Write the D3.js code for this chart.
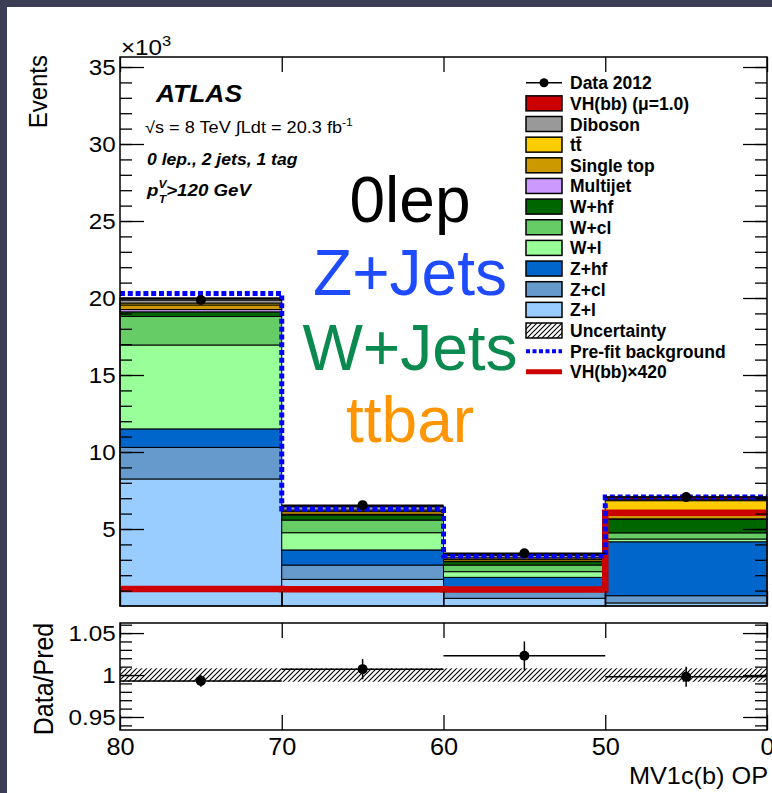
<!DOCTYPE html>
<html>
<head>
<meta charset="utf-8">
<script src="https://cdn.jsdelivr.net/npm/d3@7"></script>
<style>
  body { margin: 0; background: #3b3e54; }
  svg { display: block; }
  text { font-family: "Liberation Sans", Arial, Helvetica, sans-serif; }
</style>
</head>
<body>
<script>
var width = 772;
var height = 793;

// MV1c(b) operating point bin edges
var binEdges = ["80", "70", "60", "50", "0"];

// stacked backgrounds (x10^3 events), bottom -> top
var zl = [8.25, 1.73, 0.5, 0.2];
var zcl = [2.05, 0.93, 0.5, 0.47];
var zhf = [1.2, 0.98, 0.86, 3.5];
var wl = [5.45, 1.12, 0.37, 0.18];
var wcl = [1.85, 0.82, 0.43, 0.4];
var whf = [0.3, 0.32, 0.22, 0.88];
var multijet = [0.15, 0.06, 0.03, 0.03];
var singleTop = [0.3, 0.17, 0.12, 0.3];
var ttbar = [0.12, 0.1, 0.1, 0.88];
var diboson = [0.3, 0.22, 0.17, 0.1];
var vhbb = [0.04, 0.05, 0.04, 0.14];

var data2012 = [19.87, 6.55, 3.42, 7.07];
var dataErr = [0.14, 0.08, 0.06, 0.085];
var prefit = [20.3, 6.3, 3.25, 7.07];
var vhx420 = [1.1, 1.08, 1.07, 6.05];

// ratio panel
var ratio = [0.993, 1.007, 1.023, 0.998];
var ratioErr = [0.007, 0.012, 0.017, 0.012];
var systBand = 0.008;

var yMajor = [5, 10, 15, 20, 25, 30, 35];
var ratioMajor = [0.95, 1, 1.05];

var stackKeys = ["Z+l", "Z+cl", "Z+hf", "W+l", "W+cl", "W+hf", "Multijet", "Single top", "tt", "Diboson", "VH"];
var stackVals = [zl, zcl, zhf, wl, wcl, whf, multijet, singleTop, ttbar, diboson, vhbb];
var stackColors = ["#99ccff", "#6699cc", "#0066cc", "#99ff99", "#66cc66", "#006600", "#cc99ff", "#cc9900", "#ffcc00", "#999999", "#cc0000"];

var legendNames = ["Data 2012", "VH(bb) (\u03bc=1.0)", "Diboson", "tt\u0304", "Single top", "Multijet", "W+hf", "W+cl", "W+l", "Z+hf", "Z+cl", "Z+l", "Uncertainty", "Pre-fit background", "VH(bb)\u00d7420"];

var overlayText = ["0lep", "Z+Jets", "W+Jets", "ttbar"];
var overlayColor = ["#000000", "#1f4bff", "#0a8a4e", "#ff9500"];

var plot = { left: 120, right: 767, top: 57, bottom: 606 };
var rpad = { top: 623, bottom: 730 };
var sx = 1.1; // the figure is a bit wider than tall

var svg = d3
  .select("body")
  .append("svg")
  .attr("width", width)
  .attr("height", height);

svg.append("rect").attr("x", 7).attr("y", 7).attr("width", width - 7).attr("height", height - 7).attr("fill", "#fff");

var defs = svg.append("defs");
var hatch = defs
  .append("pattern")
  .attr("id", "hatch")
  .attr("patternUnits", "userSpaceOnUse")
  .attr("width", 5)
  .attr("height", 5);
hatch.append("path").attr("d", "M0,5 L5,0 M-1,1 L1,-1 M4,6 L6,4").attr("stroke", "#000").attr("stroke-width", 1.1);

var x = d3.scaleLinear().domain([0, binEdges.length - 1]).range([plot.left, plot.right]);
var y = d3.scaleLinear().domain([0, 35.65]).range([plot.bottom, plot.top]);
var yr = d3.scaleLinear().domain([0.9345, 1.062]).range([rpad.bottom, rpad.top]);

var bins = d3.range(binEdges.length - 1);
var table = bins.map(function (i) {
  var row = { bin: i };
  stackKeys.forEach(function (k, j) {
    row[k] = stackVals[j][i];
  });
  return row;
});
var layers = d3.stack().keys(stackKeys)(table);

// stacked histogram
var gStack = svg.append("g");
layers.forEach(function (layer, j) {
  gStack
    .selectAll(null)
    .data(layer)
    .join("rect")
    .attr("x", (d) => x(d.data.bin))
    .attr("width", (d) => x(d.data.bin + 1) - x(d.data.bin))
    .attr("y", (d) => y(d[1]))
    .attr("height", (d) => y(d[0]) - y(d[1]))
    .attr("fill", stackColors[j])
    .attr("stroke", "#000")
    .attr("stroke-width", 1);
});

// uncertainty on the total
var top = layers[layers.length - 1];
svg
  .append("g")
  .selectAll("rect")
  .data(top)
  .join("rect")
  .attr("x", (d) => x(d.data.bin))
  .attr("width", (d) => x(d.data.bin + 1) - x(d.data.bin))
  .attr("y", (d) => y(d[1] * (1 + systBand)))
  .attr("height", (d) => y(d[1] * (1 - systBand)) - y(d[1] * (1 + systBand)))
  .attr("fill", "url(#hatch)");

// step lines
function steps(vals) {
  var pts = vals.map((v, i) => [i, v]);
  pts.push([vals.length, vals[vals.length - 1]]);
  return pts;
}
var stepLine = d3
  .line()
  .x((d) => x(d[0]))
  .y((d) => y(d[1]))
  .curve(d3.curveStepAfter);

svg
  .append("path")
  .datum(steps(vhx420))
  .attr("fill", "none")
  .attr("stroke", "#cc0000")
  .attr("stroke-width", 6.5)
  .attr("d", stepLine);

svg
  .append("path")
  .datum(steps(prefit))
  .attr("fill", "none")
  .attr("stroke", "#0000ff")
  .attr("stroke-width", 5)
  .attr("stroke-dasharray", "5,2.8")
  .attr("d", stepLine);

// data points
var gData = svg.append("g");
bins.forEach(function (i) {
  gData.append("line")
    .attr("x1", x(i)).attr("x2", x(i + 1))
    .attr("y1", y(data2012[i])).attr("y2", y(data2012[i]))
    .attr("stroke", "#000").attr("stroke-width", 1.5);
  gData.append("line")
    .attr("x1", x(i + 0.5)).attr("x2", x(i + 0.5))
    .attr("y1", y(data2012[i] - dataErr[i])).attr("y2", y(data2012[i] + dataErr[i]))
    .attr("stroke", "#000").attr("stroke-width", 1.5);
  gData.append("circle")
    .attr("cx", x(i + 0.5)).attr("cy", y(data2012[i]))
    .attr("r", 5).attr("fill", "#000");
});

// ratio panel
svg
  .append("rect")
  .attr("x", plot.left)
  .attr("width", plot.right - plot.left)
  .attr("y", yr(1 + systBand))
  .attr("height", yr(1 - systBand) - yr(1 + systBand))
  .attr("fill", "url(#hatch)");

var gRatio = svg.append("g");
bins.forEach(function (i) {
  gRatio.append("line")
    .attr("x1", x(i)).attr("x2", x(i + 1))
    .attr("y1", yr(ratio[i])).attr("y2", yr(ratio[i]))
    .attr("stroke", "#000").attr("stroke-width", 1.5);
  gRatio.append("line")
    .attr("x1", x(i + 0.5)).attr("x2", x(i + 0.5))
    .attr("y1", yr(ratio[i] - ratioErr[i])).attr("y2", yr(ratio[i] + ratioErr[i]))
    .attr("stroke", "#000").attr("stroke-width", 1.5);
  gRatio.append("circle")
    .attr("cx", x(i + 0.5)).attr("cy", yr(ratio[i]))
    .attr("r", 5).attr("fill", "#000");
});

// axes
function styleAxis(g) {
  g.select(".domain").remove();
  g.selectAll(".tick line").attr("stroke", "#000").attr("stroke-width", 1.3);
  g.selectAll(".tick text").attr("font-size", 22).attr("fill", "#000").attr("font-family", "Liberation Sans, Arial, sans-serif");
}
function addAxis(axis, tx, ty) {
  var g = svg.append("g").attr("transform", "translate(" + tx + "," + ty + ")").call(axis);
  styleAxis(g);
  return g;
}

// main y
var gy = addAxis(d3.axisLeft(y).tickValues(yMajor).tickSize(-24).tickPadding(4).tickFormat(d3.format("d")), plot.left, 0);
gy.selectAll(".tick text").attr("transform", "scale(" + sx + ",1)");
addAxis(d3.axisLeft(y).tickValues(d3.range(1, 36)).tickSize(-12).tickFormat(""), plot.left, 0);
addAxis(d3.axisRight(y).tickValues(yMajor).tickSize(-24).tickFormat(""), plot.right, 0);
addAxis(d3.axisRight(y).tickValues(d3.range(1, 36)).tickSize(-12).tickFormat(""), plot.right, 0);
addAxis(d3.axisBottom(x).ticks(4).tickSize(-15).tickFormat(""), 0, plot.bottom);
addAxis(d3.axisTop(x).ticks(4).tickSize(-15).tickFormat(""), 0, plot.top);

// ratio y
var gyr = addAxis(
  d3.axisLeft(yr).tickValues(ratioMajor).tickSize(-24).tickPadding(4).tickFormat((d) => (d === 1 ? "1" : d3.format(".2f")(d))),
  plot.left, 0
);
gyr.selectAll(".tick text").attr("transform", "scale(" + sx + ",1)");
var ratioMinor = d3.range(94, 107).map((d) => d / 100);
addAxis(d3.axisLeft(yr).tickValues(ratioMinor).tickSize(-12).tickFormat(""), plot.left, 0);
addAxis(d3.axisRight(yr).tickValues(ratioMajor).tickSize(-24).tickFormat(""), plot.right, 0);
addAxis(d3.axisRight(yr).tickValues(ratioMinor).tickSize(-12).tickFormat(""), plot.right, 0);
var gx = addAxis(
  d3.axisBottom(x).ticks(4).tickSize(-15).tickPadding(9).tickFormat((d) => binEdges[d]),
  0, rpad.bottom
);
gx.selectAll(".tick text").attr("transform", "scale(" + sx + ",1)").attr("font-size", 23);
addAxis(d3.axisTop(x).ticks(4).tickSize(-15).tickFormat(""), 0, rpad.top);

// frames
[[plot.top, plot.bottom], [rpad.top, rpad.bottom]].forEach(function (p) {
  svg.append("rect")
    .attr("x", plot.left).attr("y", p[0])
    .attr("width", plot.right - plot.left).attr("height", p[1] - p[0])
    .attr("fill", "none").attr("stroke", "#000").attr("stroke-width", 1.5);
});

// axis titles
svg.append("text")
  .attr("transform", "translate(47,55) scale(" + sx + ",1) rotate(-90)")
  .attr("text-anchor", "end").attr("font-size", 24)
  .text("Events");
svg.append("text")
  .attr("transform", "translate(53,679) scale(" + sx + ",1) rotate(-90)")
  .attr("text-anchor", "middle").attr("font-size", 25)
  .text("Data/Pred");
svg.append("text")
  .attr("transform", "translate(768,784) scale(" + sx + ",1)")
  .attr("text-anchor", "end").attr("font-size", 23)
  .text("MV1c(b) OP");

var mult = svg.append("text")
  .attr("transform", "translate(121,55) scale(" + sx + ",1)")
  .attr("font-size", 22);
mult.append("tspan").text("\u00d710");
mult.append("tspan").attr("dy", -9).attr("font-size", 15).text("3");

// ATLAS labels
svg.append("text")
  .attr("transform", "translate(156,102) scale(" + sx + ",1)")
  .attr("font-size", 24).attr("font-weight", "bold").attr("font-style", "italic")
  .text("ATLAS");
var lumi = svg.append("text")
  .attr("transform", "translate(145,133) scale(" + sx + ",1)")
  .attr("font-size", 16.5);
lumi.append("tspan").text("\u221as = 8 TeV \u222bLdt = 20.3 fb");
lumi.append("tspan").attr("dy", -7).attr("font-size", 11).text("-1");
svg.append("text")
  .attr("transform", "translate(147,165) scale(" + sx + ",1)")
  .attr("font-size", 16).attr("font-weight", "bold").attr("font-style", "italic")
  .text("0 lep., 2 jets, 1 tag");
var ptv = svg.append("text")
  .attr("transform", "translate(147,196) scale(" + sx + ",1)")
  .attr("font-size", 17).attr("font-weight", "bold").attr("font-style", "italic");
ptv.append("tspan").text("p");
ptv.append("tspan").attr("dy", -8).attr("font-size", 11).text("V");
ptv.append("tspan").attr("dx", -7).attr("dy", 15).attr("font-size", 11).text("T");
ptv.append("tspan").attr("dy", -7).text(">120 GeV");

// legend
var legY0 = 82.7;
var legStep = 20.65;
var legX = 526;
var leg = svg.append("g");
legendNames.forEach(function (name, k) {
  var ly = legY0 + k * legStep;
  if (k === 0) {
    leg.append("line").attr("x1", legX).attr("x2", legX + 36).attr("y1", ly).attr("y2", ly)
      .attr("stroke", "#000").attr("stroke-width", 1.5);
    leg.append("circle").attr("cx", legX + 18).attr("cy", ly).attr("r", 4.5).attr("fill", "#000");
  } else if (k <= 11) {
    leg.append("rect").attr("x", legX).attr("y", ly - 7.5).attr("width", 36).attr("height", 15)
      .attr("fill", stackColors[stackColors.length - k]).attr("stroke", "#000").attr("stroke-width", 1.5);
  } else if (k === 12) {
    leg.append("rect").attr("x", legX).attr("y", ly - 7.5).attr("width", 36).attr("height", 15)
      .attr("fill", "url(#hatch)").attr("stroke", "#000").attr("stroke-width", 1.5);
  } else if (k === 13) {
    leg.append("line").attr("x1", legX).attr("x2", legX + 36).attr("y1", ly).attr("y2", ly)
      .attr("stroke", "#0000ff").attr("stroke-width", 4).attr("stroke-dasharray", "4,2.5");
  } else {
    leg.append("line").attr("x1", legX).attr("x2", legX + 36).attr("y1", ly).attr("y2", ly)
      .attr("stroke", "#cc0000").attr("stroke-width", 5);
  }
  leg.append("text")
    .attr("transform", "translate(" + (legX + 44) + "," + (ly + 6.5) + ")")
    .attr("font-size", 17.5).attr("font-weight", "bold")
    .text(name);
});

// overlaid annotations
var overlayBase = [222, 295, 370, 442];
overlayText.forEach(function (t, k) {
  svg.append("text")
    .attr("x", 410).attr("y", overlayBase[k])
    .attr("text-anchor", "middle")
    .attr("font-family", "Roboto, sans-serif")
    .attr("font-size", 64)
    .attr("fill", overlayColor[k])
    .text(t);
});
</script>
</body>
</html>
